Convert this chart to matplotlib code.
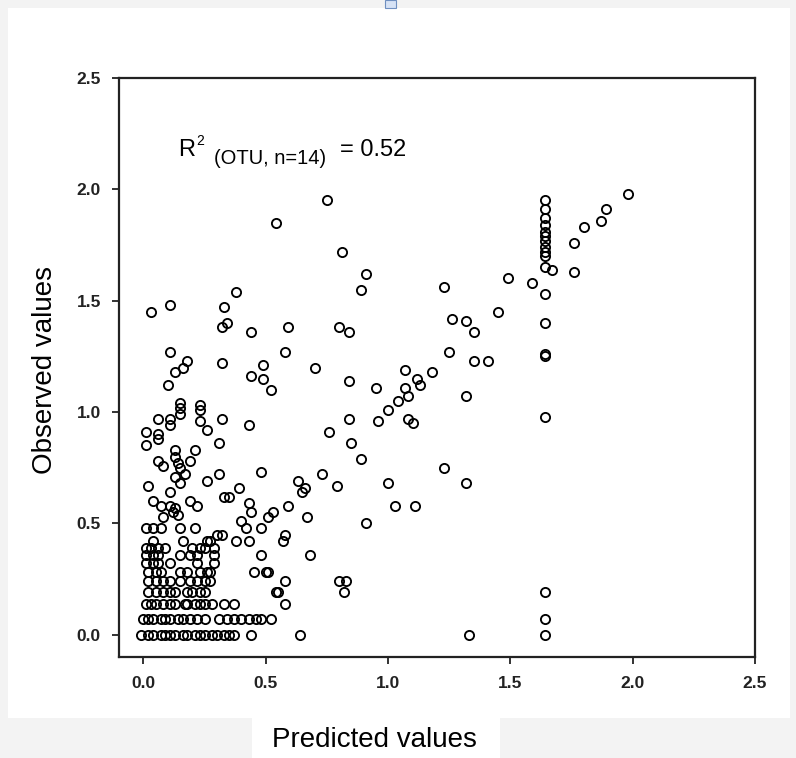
import matplotlib.pyplot as plt
from matplotlib.patches import Rectangle

plt.rcParams['font.family'] = ['Liberation Sans', 'DejaVu Sans']

# observed levels in the dense lower-left block, with the predicted values on each level
row_levels = [0.00, 0.07, 0.14, 0.19, 0.24, 0.28, 0.32, 0.36, 0.39, 0.42, 0.45, 0.48]
row_predicted = [
    [-0.01, 0.02, 0.04, 0.07, 0.09, 0.11, 0.13, 0.16, 0.18, 0.21, 0.23, 0.25, 0.28, 0.30,
     0.33, 0.35, 0.37, 0.44, 0.64, 1.33, 1.64],
    [0.00, 0.02, 0.04, 0.07, 0.09, 0.11, 0.14, 0.16, 0.19, 0.22, 0.25, 0.31, 0.34, 0.37,
     0.40, 0.43, 0.46, 0.48, 0.52, 1.64],
    [0.01, 0.03, 0.05, 0.08, 0.11, 0.13, 0.17, 0.18, 0.21, 0.23, 0.25, 0.28, 0.33, 0.37, 0.58],
    [0.02, 0.05, 0.08, 0.11, 0.13, 0.18, 0.20, 0.23, 0.25, 0.54, 0.55, 0.82, 1.64],
    [0.02, 0.05, 0.08, 0.11, 0.15, 0.19, 0.22, 0.25, 0.27, 0.58, 0.80, 0.83],
    [0.02, 0.05, 0.07, 0.15, 0.18, 0.23, 0.26, 0.27, 0.45, 0.50, 0.51],
    [0.01, 0.04, 0.06, 0.11, 0.22, 0.29],
    [0.01, 0.04, 0.06, 0.15, 0.19, 0.22, 0.29, 0.48, 0.68],
    [0.01, 0.03, 0.06, 0.09, 0.20, 0.23, 0.25, 0.29],
    [0.04, 0.16, 0.26, 0.27, 0.38, 0.43, 0.57],
    [0.30, 0.32, 0.58],
    [0.01, 0.04, 0.07, 0.15, 0.21, 0.42, 0.48],
]

# the remaining scattered points
pred_other = [
    0.08, 0.14, 0.12, 0.13, 0.11, 0.07, 0.04, 0.19, 0.22,
    0.43, 0.44, 0.40, 0.51, 0.53, 0.59, 0.67, 0.91,
    0.11, 0.02, 0.33, 0.35, 0.39, 0.26, 0.17, 0.13, 0.15, 0.31, 0.48,
    0.06, 0.08, 0.14, 0.15, 0.19, 0.13, 0.13, 0.21,
    0.01, 0.01, 0.06, 0.06, 0.31, 0.06, 0.11, 0.11, 0.15, 0.23, 0.26, 0.32, 0.43,
    0.15, 0.15, 0.23, 0.23, 0.10, 0.13, 0.16, 0.18, 0.11, 0.32,
    0.58, 0.44, 0.49, 0.49, 0.52, 0.70, 0.84, 0.95, 1.07, 1.18, 1.12, 1.13, 1.07, 1.08,
    1.04, 1.00, 0.96, 1.08, 1.10,
    0.84, 0.76, 0.85, 0.89, 0.73, 0.79, 0.63, 0.66, 0.65, 1.00, 1.03, 1.11, 1.23, 1.32, 1.32,
    0.03, 0.11, 0.33, 0.38, 0.32, 0.34, 0.44, 0.59, 0.54, 0.75, 0.81, 0.91, 0.89, 0.80, 0.84,
    1.23, 1.26, 1.25, 1.32, 1.35, 1.35, 1.41, 1.45, 1.49, 1.59,
    1.76, 1.76, 1.80, 1.87, 1.89, 1.98,
    1.64, 1.64, 1.64, 1.64, 1.64, 1.64, 1.64, 1.64, 1.64, 1.64, 1.64, 1.67, 1.64, 1.64,
    1.64, 1.64, 1.64,
]
obs_other = [
    0.53, 0.54, 0.55, 0.57, 0.58, 0.58, 0.60, 0.60, 0.58,
    0.59, 0.55, 0.51, 0.53, 0.55, 0.58, 0.53, 0.50,
    0.64, 0.67, 0.62, 0.62, 0.66, 0.69, 0.72, 0.71, 0.68, 0.72, 0.73,
    0.78, 0.76, 0.77, 0.75, 0.78, 0.83, 0.80, 0.83,
    0.91, 0.85, 0.90, 0.88, 0.86, 0.97, 0.97, 0.94, 0.99, 0.96, 0.92, 0.97, 0.94,
    1.04, 1.02, 1.03, 1.01, 1.12, 1.18, 1.20, 1.23, 1.27, 1.22,
    1.27, 1.16, 1.21, 1.15, 1.10, 1.20, 1.14, 1.11, 1.19, 1.18, 1.15, 1.12, 1.11, 1.07,
    1.05, 1.01, 0.96, 0.97, 0.95,
    0.97, 0.91, 0.86, 0.79, 0.72, 0.67, 0.69, 0.66, 0.64, 0.68, 0.58, 0.58, 0.75, 0.68, 1.07,
    1.45, 1.48, 1.47, 1.54, 1.38, 1.40, 1.36, 1.38, 1.85, 1.95, 1.72, 1.62, 1.55, 1.38, 1.36,
    1.56, 1.42, 1.27, 1.41, 1.36, 1.23, 1.23, 1.45, 1.60, 1.58,
    1.76, 1.63, 1.83, 1.86, 1.91, 1.98,
    1.95, 1.91, 1.87, 1.84, 1.81, 1.79, 1.77, 1.74, 1.72, 1.70, 1.65, 1.64, 1.53, 1.40,
    1.26, 1.25, 0.98,
]

ticks = [0.0, 0.5, 1.0, 1.5, 2.0, 2.5]
tick_labels = ['0.0', '0.5', '1.0', '1.5', '2.0', '2.5']

predicted = []
observed = []
for level, xs in zip(row_levels, row_predicted):
    predicted += xs
    observed += [level] * len(xs)
predicted += pred_other
observed += obs_other

fig = plt.figure(figsize=(7.96, 7.58), dpi=100, facecolor='#f3f3f3')
# white page area of the screenshot
fig.add_artist(Rectangle((0.010, 0.053), 0.982, 0.936, transform=fig.transFigure,
                         facecolor='white', edgecolor='none', zorder=-2))
fig.add_artist(Rectangle((0.316, 0.0), 0.312, 0.053, transform=fig.transFigure,
                         facecolor='white', edgecolor='none', zorder=-2))
fig.add_artist(Rectangle((0.484, 0.989), 0.014, 0.011, transform=fig.transFigure,
                         facecolor='#d6e2f5', edgecolor='#6f8fc0', lw=0.8, zorder=-1))

ax = fig.add_axes([0.1495, 0.1332, 0.799, 0.7639])
ax.plot(predicted, observed, 'o', mfc='none', mec='black', ms=6.6, mew=1.35)

ax.set_xlim(-0.1, 2.5)
ax.set_ylim(-0.1, 2.5)
ax.set_xticks(ticks)
ax.set_xticklabels(tick_labels)
ax.set_yticks(ticks)
ax.set_yticklabels(tick_labels)
ax.tick_params(direction='out', length=5, width=1.3, color='#222222', labelsize=12.5)
ax.tick_params(axis='x', pad=9)
ax.tick_params(axis='y', pad=8)
for lab in ax.get_xticklabels() + ax.get_yticklabels():
    lab.set_fontweight('bold')
    lab.set_color('#222222')
for sp in ax.spines.values():
    sp.set_linewidth(1.6)
    sp.set_color('#222222')

ax.text(0.143, 2.149, 'R', fontsize=17, va='baseline', ha='left')
ax.text(0.216, 2.20, '2', fontsize=10, va='baseline', ha='left')
ax.text(0.290, 2.115, '(OTU, n=14)', fontsize=14.5, va='baseline', ha='left')
ax.text(0.805, 2.149, '= 0.52', fontsize=17, va='baseline', ha='left')

fig.text(0.056, 0.512, 'Observed values', rotation=90, fontsize=20, ha='center', va='center')
fig.text(0.470, 0.024, 'Predicted values', fontsize=20, ha='center', va='center')

fig.savefig('out.png', dpi=100, facecolor=fig.get_facecolor())
